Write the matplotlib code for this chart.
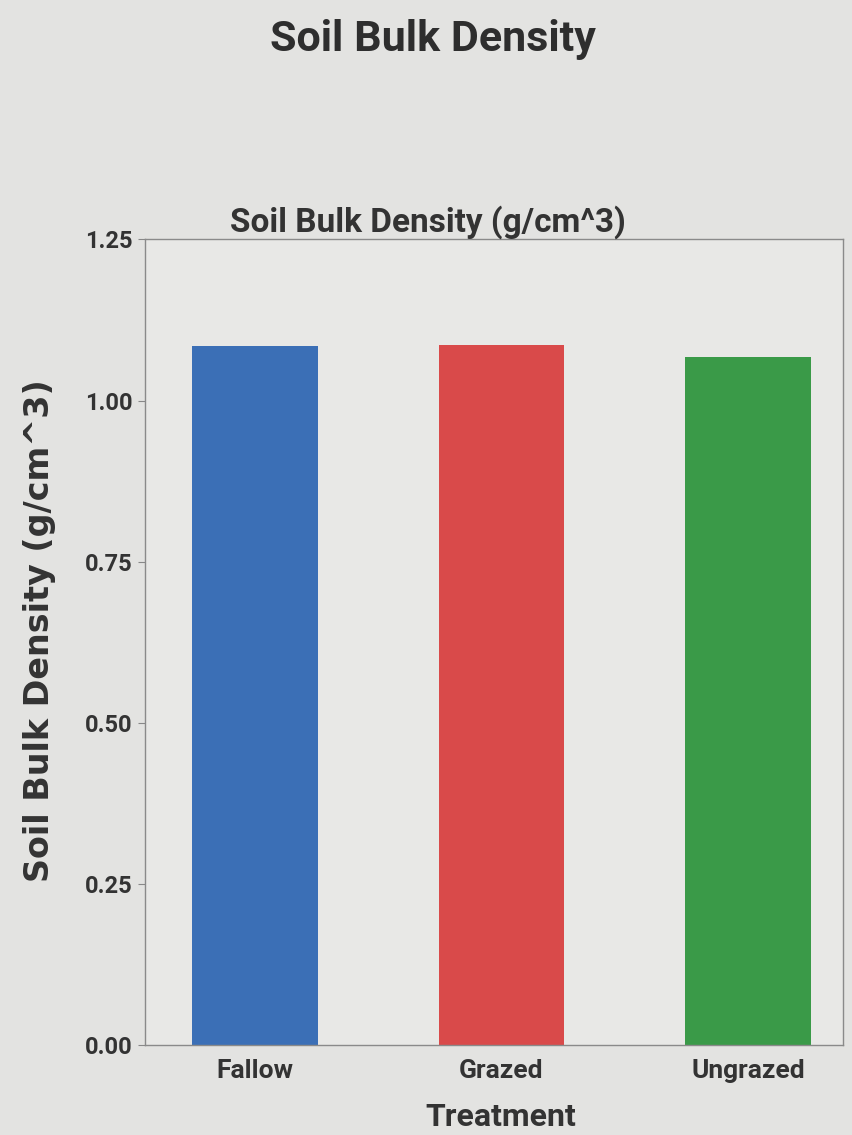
import matplotlib
matplotlib.use('Agg')
import matplotlib.pyplot as plt

plt.rcParams['font.family'] = ['Roboto', 'DejaVu Sans']

treatments = ['Fallow', 'Grazed', 'Ungrazed']
density = [1.085, 1.087, 1.067]
bar_colors = ['#3b6fb6', '#d94a4a', '#3a9a48']
yticks = [0.00, 0.25, 0.50, 0.75, 1.00, 1.25]

fig = plt.figure(figsize=(8.53, 11.35), dpi=100, facecolor='#e3e3e1')
ax = fig.add_axes([0.170, 0.079, 0.818, 0.710], facecolor='#e8e8e6')

ax.bar(range(len(treatments)), density, width=0.51, color=bar_colors)
ax.set_xlim(-0.446, 2.385)
ax.set_ylim(0, 1.25)
ax.set_yticks(yticks)
ax.set_yticklabels(['%.2f' % v for v in yticks], fontsize=17, fontweight='bold', color='#333333')
ax.set_xticks(range(len(treatments)))
ax.set_xticklabels(treatments, fontsize=19, fontweight='bold', color='#333333')
ax.tick_params(axis='x', length=0, pad=10)
ax.tick_params(axis='y', length=5, color='#888888', pad=4)

for s in ax.spines.values():
    s.set_color('#8a8a8a')
    s.set_linewidth(1.0)

ax.set_title('Soil Bulk Density (g/cm^3)', fontsize=24, fontweight='bold', color='#333333',
             x=0.405, pad=6)
ax.set_xlabel('Treatment', fontsize=23, fontweight='bold', color='#333333', labelpad=10)
ax.xaxis.set_label_coords(0.51, -0.07)
ax.set_ylabel('Soil Bulk Density (g/cm^3)', fontsize=24, fontweight='bold', color='#333333',
              family='DejaVu Sans', labelpad=14)
ax.yaxis.set_label_coords(-0.128, 0.515)

fig.text(0.507, 0.965, 'Soil Bulk Density', ha='center', va='center', fontsize=31,
         fontweight='bold', color='#2e2e2e')

fig.savefig('out.png', dpi=100, facecolor=fig.get_facecolor())
